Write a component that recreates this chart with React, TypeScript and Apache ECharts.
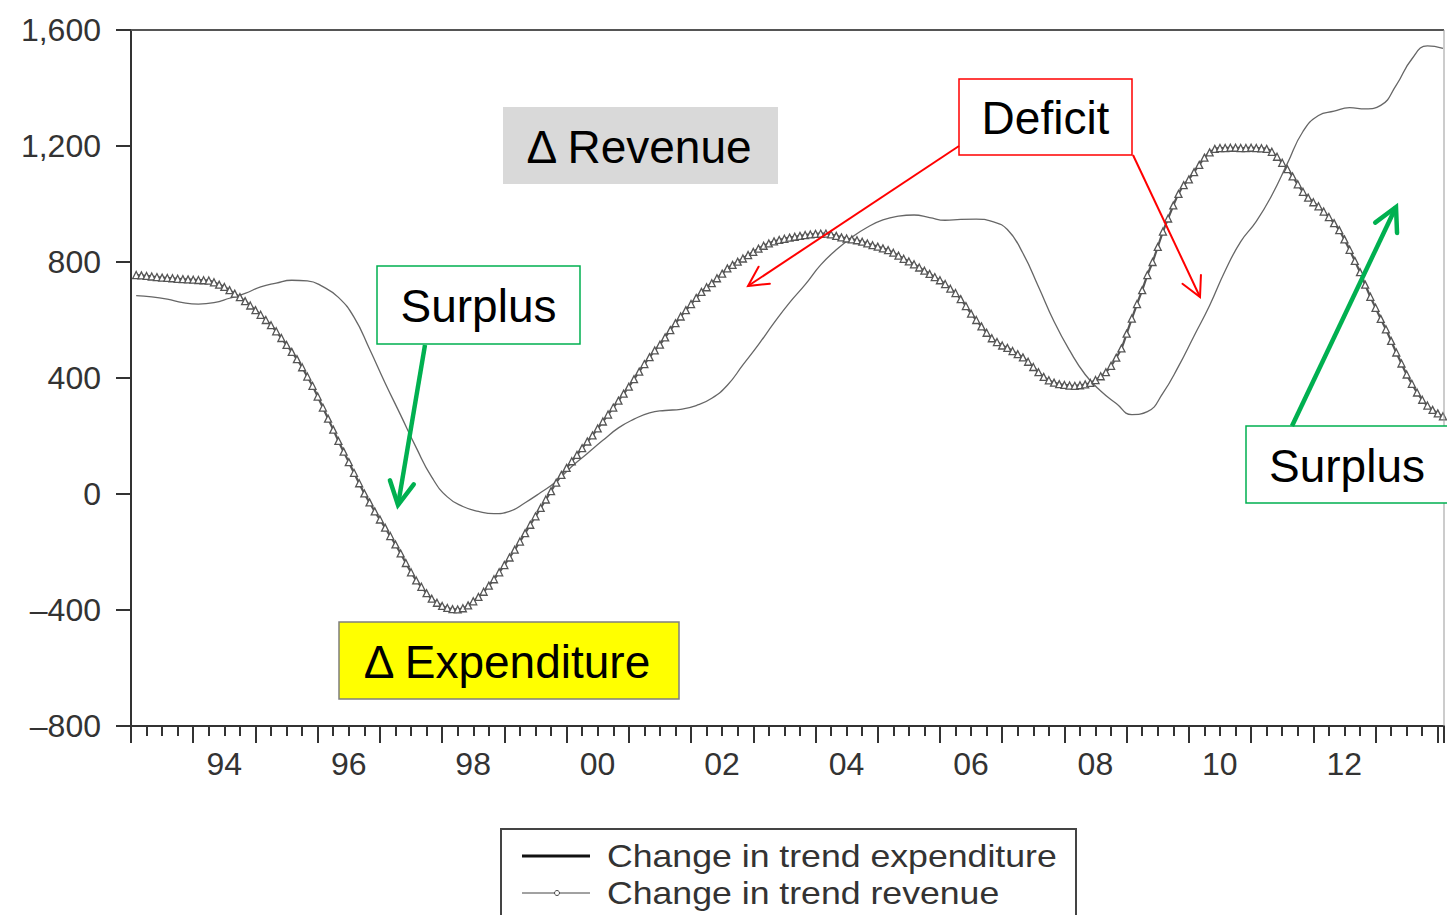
import React, { useEffect, useRef } from "react";
import * as echarts from "echarts";

// ---------- data ----------
const FIRST_YEAR = 1993;
const X_MIN = 1993;
const X_MAX = 2014.1;
const Y_MIN = -800;
const Y_MAX = 1600;
const Y_STEP = 400;

// monthly series drawn with triangle markers (dips to about -400 in 1998)
const markedSeries = [
  755, 754, 752, 750, 748, 746, 745, 744, 742, 741, 740, 739, 738, 737, 736,
  730, 722, 714, 703, 691, 679, 665, 650, 634, 618, 600, 582, 561, 538, 514,
  490, 465, 437, 405, 373, 336, 298, 260, 222, 183, 146, 110, 73, 37, 2,
  -29, -60, -88, -116, -145, -174, -205, -238, -270, -298, -320, -342, -361, -375, -386,
  -393, -397, -398, -394, -384,
  -370, -355, -337, -316, -294, -270, -245, -219, -192, -164, -135, -106, -77, -48, -19,
  10, 39, 66, 90, 113, 135, 158, 181, 202, 226, 250, 274, 298, 322, 346,
  370, 396, 422, 448, 472, 495, 515, 540, 565, 589, 612, 634, 655, 676, 697,
  713, 727, 744, 760, 778, 790, 801, 812, 824, 835, 846, 856, 864, 871, 876,
  880, 884, 887, 890, 893, 895, 897, 898, 898, 895, 890, 885, 881, 878, 875,
  870, 864, 858, 853, 847, 841, 832, 822, 811, 802, 792, 781, 770, 759, 748,
  737, 724, 708, 693, 672, 648, 622, 600, 578, 556, 537, 524, 512, 504, 493,
  482, 471, 456, 438, 420, 404, 392, 384, 379, 376, 374, 373, 375, 378, 383,
  393, 406, 420, 442, 470, 502, 553, 605, 655, 703, 755, 800, 852, 905, 950,
  995, 1035, 1065, 1085, 1110, 1135, 1160, 1178, 1190, 1193, 1193, 1194, 1194, 1193, 1193,
  1194, 1193, 1192, 1190, 1180, 1163, 1142, 1120, 1095, 1068, 1042, 1022, 1006, 992, 974,
  955, 934, 910, 878, 842, 804, 765, 722, 680, 642, 604, 568, 528, 488, 450,
  412, 380, 350, 325, 305, 290, 278, 268,
];

// quarterly thin line
const plainSeries = [
  684, 680, 672, 660, 655, 660, 675, 692, 714, 727,
  737, 735, 715, 678, 610, 500, 383, 272, 160, 58,
  -10, -43, -60, -68, -60, -30, 5, 43, 95, 140,
  185, 228, 258, 280, 288, 292, 305, 330, 375, 445,
  515, 590, 660, 722, 790, 842, 885, 920, 945, 958,
  962, 953, 944, 947, 948, 940, 912, 830, 715, 595,
  495, 412, 355, 312, 274, 284, 348, 440, 545, 650,
  770, 870, 940, 1030, 1140, 1250, 1305, 1320, 1332, 1328,
  1340, 1410, 1500, 1545, 1537,
];

const legendLabels = ["Change in trend expenditure", "Change in trend revenue"];
const noteRevenue = "\u0394 Revenue";
const noteExpenditure = "\u0394 Expenditure";
const noteDeficit = "Deficit";
const noteSurplus = "Surplus";

// ---------- helpers ----------
const FONT = '"Liberation Sans", Arial, Helvetica, sans-serif';

function arrow(x1: number, y1: number, x2: number, y2: number, color: string, width: number, head: number) {
  const ang = Math.atan2(y2 - y1, x2 - x1);
  const a1 = ang + Math.PI - Math.PI / 6.5;
  const a2 = ang + Math.PI + Math.PI / 6.5;
  return [
    { type: "line", z: 100, shape: { x1, y1, x2, y2 }, style: { stroke: color, lineWidth: width } },
    {
      type: "polyline",
      z: 100,
      shape: {
        points: [
          [x2 + head * Math.cos(a1), y2 + head * Math.sin(a1)],
          [x2, y2],
          [x2 + head * Math.cos(a2), y2 + head * Math.sin(a2)],
        ],
      },
      style: { stroke: color, lineWidth: width, fill: null, lineJoin: "miter", lineCap: "round" },
    },
  ];
}

function box(x: number, y: number, w: number, h: number, text: string, fill: string, stroke: string | null, tx?: number) {
  return [
    {
      type: "rect",
      z: 100,
      shape: { x, y, width: w, height: h },
      style: { fill, stroke: stroke || "none", lineWidth: stroke ? 1.5 : 0 },
    },
    {
      type: "text",
      z: 101,
      x: tx !== undefined ? tx : x + w / 2,
      y: y + h / 2 + 1,
      style: {
        text,
        fill: "#000",
        fontSize: 46,
        fontFamily: FONT,
        align: "center",
        verticalAlign: "middle",
      },
    },
  ];
}

export default function App() {
  const ref = useRef<HTMLDivElement>(null);

  useEffect(() => {
    if (!ref.current) return;
    const chart = echarts.init(ref.current, null, { renderer: "svg" });

    const markedData = markedSeries.map((v, i) => [FIRST_YEAR + (i + 1) / 12, v]);
    const plainData = plainSeries.map((v, i) => [FIRST_YEAR + 1 / 12 + i / 4, v]);

    const gridLeft = 131;
    const gridTop = 30;
    const gridRight = 1444;
    const gridBottom = 726;
    const yearPx = (gridRight - gridLeft) / (X_MAX - X_MIN);

    const option: any = {
      animation: false,
      backgroundColor: "#fff",
      grid: {
        left: gridLeft,
        top: gridTop,
        width: gridRight - gridLeft,
        height: gridBottom - gridTop,
        show: false,
        containLabel: false,
        outerBoundsMode: "none",
      },
      xAxis: {
        type: "value",
        position: "bottom",
        min: X_MIN,
        max: X_MAX,
        interval: 1,
        axisLine: { show: true, onZero: false, lineStyle: { color: "#333", width: 2 } },
        axisTick: { show: true, length: 17, lineStyle: { color: "#333", width: 2 } },
        minorTick: { show: true, splitNumber: 4, length: 10, lineStyle: { color: "#333", width: 2 } },
        splitLine: { show: false },
        minorSplitLine: { show: false },
        axisLabel: {
          show: true,
          margin: 22,
          color: "#333",
          fontSize: 32,
          fontFamily: FONT,
          lineHeight: 32,
          align: "center",
          padding: [0, 0, 0, Math.round(yearPx)],
          formatter: (v: number) =>
            Number.isInteger(v) && v % 2 === 0 && v < 2014 ? String(v).slice(2) : "",
        },
      },
      yAxis: {
        type: "value",
        min: Y_MIN,
        max: Y_MAX,
        interval: Y_STEP,
        axisLine: { show: true, onZero: false, lineStyle: { color: "#333", width: 2 } },
        axisTick: { show: true, length: 15, lineStyle: { color: "#333", width: 2 } },
        splitLine: { show: false },
        axisLabel: {
          margin: 30,
          color: "#333",
          fontSize: 32,
          fontFamily: FONT,
          padding: [0, 0, 9, 0],
          formatter: (v: number) =>
            v < 0 ? "\u2013" + Math.abs(v).toLocaleString("en-US") : v.toLocaleString("en-US"),
        },
      },
      series: [
        {
          name: legendLabels[1],
          type: "line",
          data: plainData,
          smooth: 0.5,
          showSymbol: false,
          symbol: "none",
          lineStyle: { color: "#666", width: 1.3 },
          z: 3,
        },
        {
          name: legendLabels[0],
          type: "line",
          data: markedData,
          smooth: 0.3,
          symbol: "triangle",
          symbolSize: 7,
          showSymbol: true,
          showAllSymbol: true,
          lineStyle: { color: "#555", width: 2.2 },
          itemStyle: { color: "#fff", borderColor: "#555", borderWidth: 1.3 },
          z: 4,
        },
      ],
      graphic: [
        // frame top and right
        { type: "line", z: 50, shape: { x1: gridLeft, y1: gridTop, x2: gridRight, y2: gridTop }, style: { stroke: "#555", lineWidth: 2 } },
        { type: "line", z: 50, shape: { x1: gridRight, y1: gridTop, x2: gridRight, y2: gridBottom }, style: { stroke: "#999", lineWidth: 1 } },
        // legend
        {
          type: "rect",
          z: 100,
          shape: { x: 501, y: 829, width: 575, height: 110 },
          style: { fill: "#fff", stroke: "#444", lineWidth: 2 },
        },
        { type: "line", z: 101, shape: { x1: 522, y1: 856, x2: 590, y2: 856 }, style: { stroke: "#111", lineWidth: 3 } },
        {
          type: "text",
          z: 101,
          x: 607,
          y: 856,
          scaleX: 1.15,
          style: { text: legendLabels[0], x: 0, y: 0, fill: "#333", fontSize: 31, fontFamily: FONT, align: "left", verticalAlign: "middle" },
        },
        { type: "line", z: 101, shape: { x1: 522, y1: 893, x2: 590, y2: 893 }, style: { stroke: "#444", lineWidth: 1 } },
        { type: "circle", z: 102, shape: { cx: 557, cy: 893, r: 2.5 }, style: { fill: "#fff", stroke: "#444", lineWidth: 1 } },
        {
          type: "text",
          z: 101,
          x: 607,
          y: 893,
          scaleX: 1.15,
          style: { text: legendLabels[1], x: 0, y: 0, fill: "#333", fontSize: 31, fontFamily: FONT, align: "left", verticalAlign: "middle" },
        },
        // annotations
        ...box(503, 107, 275, 77, noteRevenue, "#d9d9d9", null, 639),
        ...box(959, 79, 173, 76, noteDeficit, "#fff", "#ff0000"),
        ...box(377, 266, 203, 78, noteSurplus, "#fff", "#00b050"),
        ...box(1246, 426, 205, 77, noteSurplus, "#fff", "#00b050", 1347),
        ...box(339, 622, 340, 77, noteExpenditure, "#ffff00", "#7f7f7f", 507),
        ...arrow(959, 146, 748, 286, "#ff0000", 2, 22),
        ...arrow(1133, 155, 1200, 297, "#ff0000", 2, 22),
        ...arrow(425, 345, 398, 505, "#00b050", 4.5, 26),
        ...arrow(1292, 426, 1396, 207, "#00b050", 4.5, 26),
      ],
    };

    chart.setOption(option);
    return () => chart.dispose();
  }, []);

  return (
    <div
      ref={ref}
      style={{ position: "absolute", left: 0, top: 0, width: 1447, height: 915, background: "#fff" }}
    />
  );
}
